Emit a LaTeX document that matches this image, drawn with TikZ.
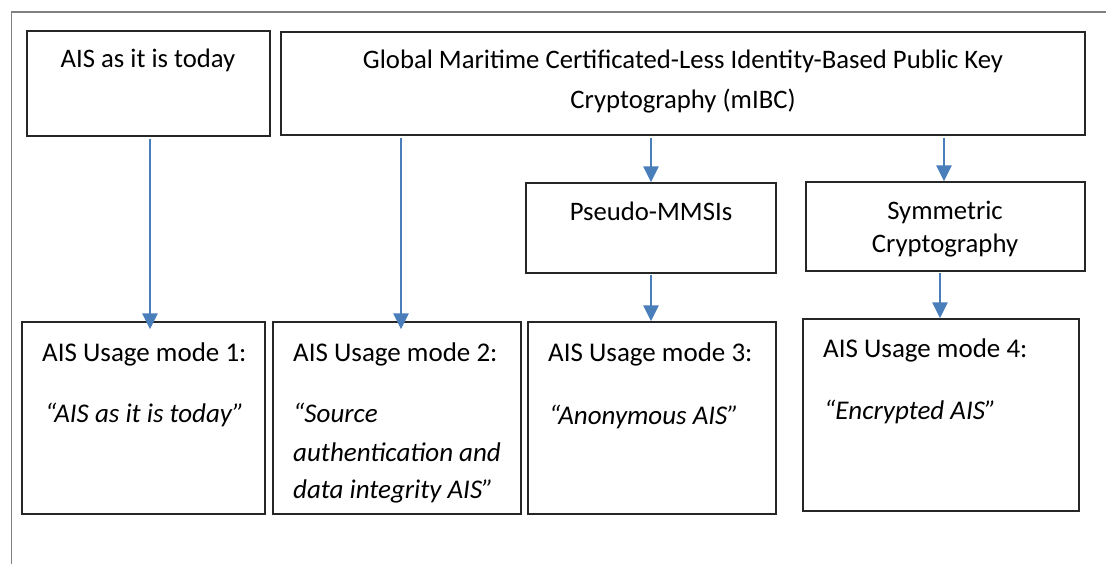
\documentclass[tikz,border=0pt]{standalone}
\usepackage{fontspec}
\setmainfont{Carlito}
\usetikzlibrary{arrows.meta}
\definecolor{arrowblue}{HTML}{4A7EBB}
\definecolor{framegray}{HTML}{808080}
\begin{document}
\begin{tikzpicture}[x=1pt,y=-1pt,
  box/.style={draw=black!85, line width=1.3pt, minimum width=#1, inner sep=0pt},
  conn/.style={draw=arrowblue, line width=2.6pt, -{Triangle[width=15pt,length=16pt]}},
  txt/.style={inner sep=0pt, anchor=base, font=\fontsize{26.7}{32}\selectfont},
  ltxt/.style={inner sep=0pt, anchor=base west, font=\fontsize{27}{32}\selectfont},
  itxt/.style={inner sep=0pt, anchor=base west, font=\fontsize{27}{32}\selectfont\itshape}]
\useasboundingbox (0,0) rectangle (1106,564);
% outer frame (top and left)
\coordinate (ftl) at (11.5,12);
\coordinate (ftr) at (1106,12);
\coordinate (fbl) at (11.5,564);
\draw[framegray, line width=1.3pt] (fbl) -- (ftl) -- (ftr);
% top boxes
\node[box=243pt, minimum height=105pt] (b1) at (148.5,83.5) {};
\node[box=804pt, minimum height=103pt] (b2) at (683,83.5) {};
\node[box=250pt, minimum height=90pt] (p) at (651,228) {};
\node[box=279pt, minimum height=89pt] (s) at (945.5,226.5) {};
% bottom boxes
\node[box=243pt, minimum height=192pt] (m1) at (143.5,418) {};
\node[box=248pt, minimum height=192pt] (m2) at (397,418) {};
\node[box=248pt, minimum height=192pt] (m3) at (652,418) {};
\node[box=276pt, minimum height=192pt] (m4) at (941,415) {};
% texts
\node[txt] (t1) at (148,68) {AIS as it is today};
\node[txt] (t2a) at (683,69) {Global Maritime Certificated-Less Identity-Based Public Key};
\node[txt] (t2b) at (683,109) {Cryptography (mIBC)};
\node[txt] (tp) at (651,221) {Pseudo-MMSIs};
\node[txt] (tsa) at (945,220) {Symmetric};
\node[txt] (tsb) at (945,252) {Cryptography};
\node[ltxt] (u1) at (42,361) {AIS Usage mode 1:};
\node[itxt] (q1) at (45,422) {“AIS as it is today”};
\node[ltxt] (u2) at (293,361) {AIS Usage mode 2:};
\node[itxt] (q2a) at (293,422) {“Source};
\node[itxt] (q2b) at (293,461) {authentication and};
\node[itxt] (q2c) at (293,498) {data integrity AIS”};
\node[ltxt] (u3) at (548,361) {AIS Usage mode 3:};
\node[itxt] (q3) at (549,424) {“Anonymous AIS”};
\node[ltxt] (u4) at (823,357) {AIS Usage mode 4:};
\node[itxt] (q4) at (824,419) {“Encrypted AIS”};
% connectors
\draw[conn] ([xshift=6.5pt]m1.north |- b1.south) ++(0,2) -- ([xshift=6.5pt,yshift=-8pt]m1.north);
\draw[conn] ([xshift=4pt]m2.north |- b2.south) ++(0,2) -- ([xshift=4pt,yshift=-8pt]m2.north);
\draw[conn] (p.north |- b2.south) ++(0,2) -- (p.north);
\draw[conn] ([xshift=-1.5pt]s.north |- b2.south) ++(0,2) -- ([xshift=-1.5pt]s.north);
\draw[conn] (p.south) ++(0,1) -- ([xshift=-1pt]m3.north);
\draw[conn] ([xshift=-5.5pt]s.south) ++(0,1) -- ([xshift=-1pt]m4.north);
\end{tikzpicture}
\end{document}
